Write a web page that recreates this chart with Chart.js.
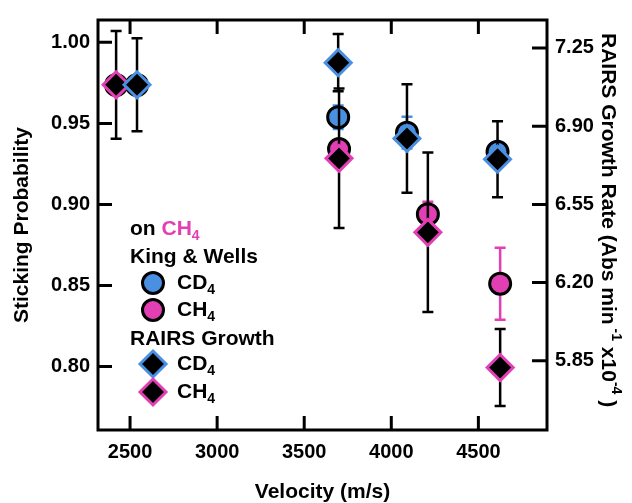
<!DOCTYPE html>
<html>
<head>
<meta charset="utf-8">
<script src="https://cdn.jsdelivr.net/npm/chart.js@4.4.1/dist/chart.umd.min.js"></script>
<style>
  html, body { margin: 0; padding: 0; background: #fff; }
  #wrap { position: relative; width: 632px; height: 503px; }
</style>
</head>
<body>
<div id="wrap"><canvas id="chart"></canvas></div>
<script>
const BLUE = '#4a90e2';
const PINK = '#e23fb4';
const FONT = "'Liberation Sans', Arial, Helvetica, sans-serif";

// King & Wells sticking probability (left axis)
const kwCd4Velocity = [2540, 3695, 4090, 4610];
const kwCd4Sticking = [0.9737, 0.9538, 0.9443, 0.9325];
const kwCd4Error = [0, 0.0073, 0.0098, 0];

const kwCh4Velocity = [2420, 3700, 4210, 4625];
const kwCh4Sticking = [0.9737, 0.9342, 0.894, 0.8511];
const kwCh4Error = [0, 0, 0.0077, 0.0222];

// RAIRS growth rate (right axis)
const rairsCd4Velocity = [2540, 3695, 4090, 4610];
const rairsCd4Rate = [7.085, 7.184, 6.845, 6.752];
const rairsCd4Error = [0.208, 0.128, 0.243, 0.170];

const rairsCh4Velocity = [2420, 3700, 4210, 4625];
const rairsCh4Rate = [7.085, 6.756, 6.425, 5.820];
const rairsCh4Error = [0.241, 0.312, 0.357, 0.172];

const velocityTicks = [2500, 3000, 3500, 4000, 4500];
const stickingTicks = [0.80, 0.85, 0.90, 0.95, 1.00];
const rateTicks = [5.85, 6.20, 6.55, 6.90, 7.25];

const toPoints = (xs, ys) => xs.map((x, i) => ({ x, y: ys[i] }));

const circle = { pointStyle: 'circle', pointRadius: 10.5, pointBorderWidth: 3, pointBorderColor: '#000' };
const diamond = { pointStyle: 'rectRot', pointRadius: 13, pointBorderWidth: 3, pointBackgroundColor: '#000' };

// vertical error bars, drawn just under their own dataset
const errorBars = {
    id: 'errorBars',
    beforeDatasetDraw(chart, args) {
        const ds = chart.data.datasets[args.index];
        if (!ds.errors) return;
        const { ctx } = chart;
        const { xScale, yScale } = args.meta;
        ctx.save();
        ctx.strokeStyle = ds.errorColor;
        ctx.lineWidth = 2.5;
        ctx.beginPath();
        ds.data.forEach((p, i) => {
            const e = ds.errors[i];
            if (!e) return;
            const x = xScale.getPixelForValue(p.x);
            const yt = yScale.getPixelForValue(p.y + e);
            const yb = yScale.getPixelForValue(p.y - e);
            ctx.moveTo(x, yt); ctx.lineTo(x, yb);
            ctx.moveTo(x - 5.5, yt); ctx.lineTo(x + 5.5, yt);
            ctx.moveTo(x - 5.5, yb); ctx.lineTo(x + 5.5, yb);
        });
        ctx.stroke();
        ctx.restore();
    }
};

// box round the plot with inward ticks on all four sides
const frame = {
    id: 'frame',
    afterDatasetsDraw(chart) {
        const { ctx, chartArea: a, scales } = chart;
        ctx.save();
        ctx.strokeStyle = '#000';
        ctx.lineWidth = 3;
        ctx.strokeRect(a.left, a.top, a.right - a.left, a.bottom - a.top);
        ctx.beginPath();
        scales.x.ticks.forEach(t => {
            const x = scales.x.getPixelForValue(t.value);
            ctx.moveTo(x, a.bottom); ctx.lineTo(x, a.bottom - 14);
            ctx.moveTo(x, a.top); ctx.lineTo(x, a.top + 14);
        });
        scales.y.ticks.forEach(t => {
            const y = scales.y.getPixelForValue(t.value);
            ctx.moveTo(a.left, y); ctx.lineTo(a.left + 14, y);
        });
        scales.y2.ticks.forEach(t => {
            const y = scales.y2.getPixelForValue(t.value);
            ctx.moveTo(a.right, y); ctx.lineTo(a.right - 15, y);
        });
        ctx.stroke();
        ctx.restore();
    }
};

function drawPieces(ctx, x, y, pieces) {
    pieces.forEach(p => {
        ctx.font = `bold ${p.sub || p.sup ? 14 : 21}px ${FONT}`;
        ctx.fillStyle = p.color || '#000';
        const dy = p.sub ? 5 : (p.sup ? -10 : 0);
        ctx.fillText(p.t, x, y + dy);
        x += ctx.measureText(p.t).width;
    });
}

// legend and right axis title with sub/superscripts
const annotations = {
    id: 'annotations',
    afterDraw(chart) {
        const { ctx, chartArea: a } = chart;
        const ds = chart.data.datasets;
        ctx.save();
        ctx.textBaseline = 'alphabetic';
        ctx.textAlign = 'left';
        const lx = a.left + 32;
        drawPieces(ctx, lx, 235, [{ t: 'on ' }, { t: 'CH', color: PINK }, { t: '4', sub: true, color: PINK }]);
        drawPieces(ctx, lx, 263, [{ t: 'King & Wells' }]);
        drawPieces(ctx, lx, 345, [{ t: 'RAIRS Growth' }]);
        const rows = [
            { y: 283, ds: ds[2], label: 'CD' },
            { y: 310, ds: ds[3], label: 'CH' },
            { y: 364, ds: ds[0], label: 'CD' },
            { y: 392, ds: ds[1], label: 'CH' }
        ];
        rows.forEach(r => {
            ctx.fillStyle = r.ds.pointBackgroundColor;
            ctx.strokeStyle = r.ds.pointBorderColor;
            ctx.lineWidth = r.ds.pointBorderWidth;
            Chart.helpers.drawPoint(ctx, { pointStyle: r.ds.pointStyle, radius: r.ds.pointRadius, borderWidth: r.ds.pointBorderWidth, rotation: 0 }, lx + 23, r.y);
            drawPieces(ctx, lx + 47, r.y + 6, [{ t: r.label }, { t: '4', sub: true }]);
        });

        ctx.translate(602, 33);
        ctx.rotate(Math.PI / 2);
        drawPieces(ctx, 0, 0, [
            { t: 'RAIRS Growth Rate (Abs min' },
            { t: ' -1', sup: true },
            { t: ' x10' },
            { t: '-4', sup: true },
            { t: ' )' }
        ]);
        ctx.restore();
    }
};

const tickFont = { family: FONT, size: 20, weight: 'bold' };
const titleFont = { family: FONT, size: 21, weight: 'bold', lineHeight: 1 };

new Chart(document.getElementById('chart').getContext('2d'), {
    type: 'scatter',
    data: {
        datasets: [
            { label: 'RAIRS CD4', data: toPoints(rairsCd4Velocity, rairsCd4Rate), yAxisID: 'y2', order: 1,
              errors: rairsCd4Error, errorColor: '#000', ...diamond, pointBorderColor: BLUE },
            { label: 'RAIRS CH4', data: toPoints(rairsCh4Velocity, rairsCh4Rate), yAxisID: 'y2', order: 2,
              errors: rairsCh4Error, errorColor: '#000', ...diamond, pointBorderColor: PINK },
            { label: 'K&W CD4', data: toPoints(kwCd4Velocity, kwCd4Sticking), yAxisID: 'y', order: 3,
              errors: kwCd4Error, errorColor: BLUE, ...circle, pointBackgroundColor: BLUE },
            { label: 'K&W CH4', data: toPoints(kwCh4Velocity, kwCh4Sticking), yAxisID: 'y', order: 4,
              errors: kwCh4Error, errorColor: PINK, ...circle, pointBackgroundColor: PINK }
        ]
    },
    options: {
        responsive: true,
        maintainAspectRatio: false,
        animation: false,
        layout: { padding: { top: 15, left: 0, right: 0, bottom: 0 } },
        plugins: {
            legend: { display: false },
            tooltip: { enabled: false }
        },
        scales: {
            x: {
                type: 'linear',
                min: 2316,
                max: 4894,
                afterBuildTicks: s => { s.ticks = velocityTicks.map(v => ({ value: v })); },
                afterFit: s => { s.height = 73; },
                grid: { display: false, drawTicks: false },
                border: { display: false },
                ticks: { color: '#000', font: tickFont, padding: 10, maxRotation: 0, callback: v => String(v) },
                title: { display: true, text: 'Velocity (m/s)', color: '#000', font: titleFont, padding: { top: 0, bottom: 0 } }
            },
            y: {
                position: 'left',
                min: 0.7608,
                max: 1.0138,
                afterBuildTicks: s => { s.ticks = stickingTicks.map(v => ({ value: v })); },
                afterFit: s => { s.width = 98; },
                grid: { display: false, drawTicks: false },
                border: { display: false },
                ticks: { color: '#000', font: tickFont, padding: 8, callback: v => v.toFixed(2) },
                title: { display: true, text: 'Sticking Probability', color: '#000', font: titleFont, padding: { top: 12, bottom: 0 } }
            },
            y2: {
                position: 'right',
                min: 5.5405,
                max: 7.375,
                afterBuildTicks: s => { s.ticks = rateTicks.map(v => ({ value: v })); },
                afterFit: s => { s.width = 85; },
                grid: { display: false, drawTicks: false },
                border: { display: false },
                ticks: { color: '#000', font: tickFont, padding: 8, callback: v => v.toFixed(2) }
            }
        }
    },
    plugins: [errorBars, frame, annotations]
});
</script>
</body>
</html>
